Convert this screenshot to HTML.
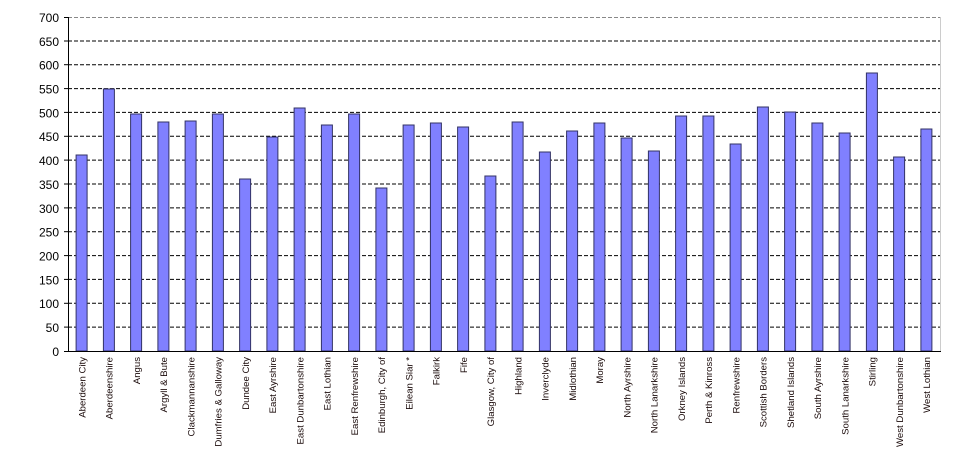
<!DOCTYPE html>
<html><head><meta charset="utf-8"><style>
html,body{margin:0;padding:0;background:#fff;}
svg{display:block;font-family:"Liberation Sans",Arial,sans-serif;}
</style></head><body>
<svg width="955" height="464" viewBox="0 0 955 464" xmlns="http://www.w3.org/2000/svg">
<g stroke="#000" stroke-width="1" stroke-dasharray="4,2">
<line x1="68" x2="940" y1="17.5" y2="17.5" stroke="#888"/>
<line x1="68" x2="940" y1="41" y2="41"/>
<line x1="68" x2="940" y1="64.7" y2="64.7"/>
<line x1="68" x2="940" y1="88.6" y2="88.6"/>
<line x1="68" x2="940" y1="112.4" y2="112.4"/>
<line x1="68" x2="940" y1="136.3" y2="136.3"/>
<line x1="68" x2="940" y1="160.1" y2="160.1"/>
<line x1="68" x2="940" y1="184" y2="184"/>
<line x1="68" x2="940" y1="207.9" y2="207.9"/>
<line x1="68" x2="940" y1="231.7" y2="231.7"/>
<line x1="68" x2="940" y1="255.6" y2="255.6"/>
<line x1="68" x2="940" y1="279.4" y2="279.4"/>
<line x1="68" x2="940" y1="303.3" y2="303.3"/>
<line x1="68" x2="940" y1="327.1" y2="327.1"/>
</g>
<line x1="940.5" x2="940.5" y1="17" y2="351" stroke="#ccc"/>
<g fill="#8080ff" stroke="#333366" stroke-width="1">
<rect x="76.1" y="155" width="11" height="196"/>
<rect x="103.4" y="89" width="11" height="262"/>
<rect x="130.6" y="114" width="11" height="237"/>
<rect x="157.9" y="122" width="11" height="229"/>
<rect x="185.1" y="121" width="11" height="230"/>
<rect x="212.4" y="114" width="11" height="237"/>
<rect x="239.6" y="179" width="11" height="172"/>
<rect x="266.9" y="137" width="11" height="214"/>
<rect x="294.1" y="108" width="11" height="243"/>
<rect x="321.4" y="125" width="11" height="226"/>
<rect x="348.6" y="114" width="11" height="237"/>
<rect x="375.9" y="188" width="11" height="163"/>
<rect x="403.1" y="125" width="11" height="226"/>
<rect x="430.4" y="123" width="11" height="228"/>
<rect x="457.6" y="127" width="11" height="224"/>
<rect x="484.9" y="176" width="11" height="175"/>
<rect x="512.1" y="122" width="11" height="229"/>
<rect x="539.4" y="152" width="11" height="199"/>
<rect x="566.6" y="131" width="11" height="220"/>
<rect x="593.9" y="123" width="11" height="228"/>
<rect x="621.1" y="138" width="11" height="213"/>
<rect x="648.4" y="151" width="11" height="200"/>
<rect x="675.6" y="116" width="11" height="235"/>
<rect x="702.9" y="116" width="11" height="235"/>
<rect x="730.1" y="144" width="11" height="207"/>
<rect x="757.4" y="107" width="11" height="244"/>
<rect x="784.6" y="112" width="11" height="239"/>
<rect x="811.9" y="123" width="11" height="228"/>
<rect x="839.1" y="133" width="11" height="218"/>
<rect x="866.4" y="73" width="11" height="278"/>
<rect x="893.6" y="157" width="11" height="194"/>
<rect x="920.9" y="129" width="11" height="222"/>
</g>
<line x1="68.5" x2="68.5" y1="17" y2="351" stroke="#000"/>
<line x1="68" x2="941" y1="351.5" y2="351.5" stroke="#000"/>
<g stroke="#000">
<line x1="64" x2="68" y1="17.5" y2="17.5"/><line x1="64" x2="68" y1="41" y2="41"/><line x1="64" x2="68" y1="64.7" y2="64.7"/><line x1="64" x2="68" y1="88.6" y2="88.6"/><line x1="64" x2="68" y1="112.4" y2="112.4"/><line x1="64" x2="68" y1="136.3" y2="136.3"/><line x1="64" x2="68" y1="160.1" y2="160.1"/><line x1="64" x2="68" y1="184" y2="184"/><line x1="64" x2="68" y1="207.9" y2="207.9"/><line x1="64" x2="68" y1="231.7" y2="231.7"/><line x1="64" x2="68" y1="255.6" y2="255.6"/><line x1="64" x2="68" y1="279.4" y2="279.4"/><line x1="64" x2="68" y1="303.3" y2="303.3"/><line x1="64" x2="68" y1="327.1" y2="327.1"/><line x1="64" x2="68" y1="351.5" y2="351.5"/>
</g>
<g font-size="12" fill="#000" text-anchor="end">
<text x="59" y="22">700</text><text x="59" y="45.8">650</text><text x="59" y="69.7">600</text><text x="59" y="93.5">550</text><text x="59" y="117.4">500</text><text x="59" y="141.2">450</text><text x="59" y="165.1">400</text><text x="59" y="188.9">350</text><text x="59" y="212.8">300</text><text x="59" y="236.6">250</text><text x="59" y="260.5">200</text><text x="59" y="284.3">150</text><text x="59" y="308.2">100</text><text x="59" y="332">50</text><text x="59" y="355.9">0</text>
</g>
<g font-size="9.6" fill="#1a0a0a" text-anchor="end">
<text transform="translate(85.4,357) rotate(-90)">Aberdeen City</text>
<text transform="translate(112.6,357) rotate(-90)">Aberdeenshire</text>
<text transform="translate(139.9,357) rotate(-90)">Angus</text>
<text transform="translate(167.1,357) rotate(-90)">Argyll &amp; Bute</text>
<text transform="translate(194.4,357) rotate(-90)">Clackmannanshire</text>
<text transform="translate(221.6,357) rotate(-90)">Dumfries &amp; Galloway</text>
<text transform="translate(248.9,357) rotate(-90)">Dundee City</text>
<text transform="translate(276.1,357) rotate(-90)">East Ayrshire</text>
<text transform="translate(303.4,357) rotate(-90)">East Dunbartonshire</text>
<text transform="translate(330.6,357) rotate(-90)">East Lothian</text>
<text transform="translate(357.9,357) rotate(-90)">East Renfrewshire</text>
<text transform="translate(385.1,357) rotate(-90)">Edinburgh, City of</text>
<text transform="translate(412.4,357) rotate(-90)">Eilean Siar *</text>
<text transform="translate(439.6,357) rotate(-90)">Falkirk</text>
<text transform="translate(466.9,357) rotate(-90)">Fife</text>
<text transform="translate(494.1,357) rotate(-90)">Glasgow, City of</text>
<text transform="translate(521.4,357) rotate(-90)">Highland</text>
<text transform="translate(548.6,357) rotate(-90)">Inverclyde</text>
<text transform="translate(575.9,357) rotate(-90)">Midlothian</text>
<text transform="translate(603.1,357) rotate(-90)">Moray</text>
<text transform="translate(630.4,357) rotate(-90)">North Ayrshire</text>
<text transform="translate(657.6,357) rotate(-90)">North Lanarkshire</text>
<text transform="translate(684.9,357) rotate(-90)">Orkney Islands</text>
<text transform="translate(712.1,357) rotate(-90)">Perth &amp; Kinross</text>
<text transform="translate(739.4,357) rotate(-90)">Renfrewshire</text>
<text transform="translate(766.6,357) rotate(-90)">Scottish Borders</text>
<text transform="translate(793.9,357) rotate(-90)">Shetland Islands</text>
<text transform="translate(821.1,357) rotate(-90)">South Ayrshire</text>
<text transform="translate(848.4,357) rotate(-90)">South Lanarkshire</text>
<text transform="translate(875.6,357) rotate(-90)">Stirling</text>
<text transform="translate(902.9,357) rotate(-90)">West Dunbartonshire</text>
<text transform="translate(930.1,357) rotate(-90)">West Lothian</text>
</g>
</svg>
</body></html>
